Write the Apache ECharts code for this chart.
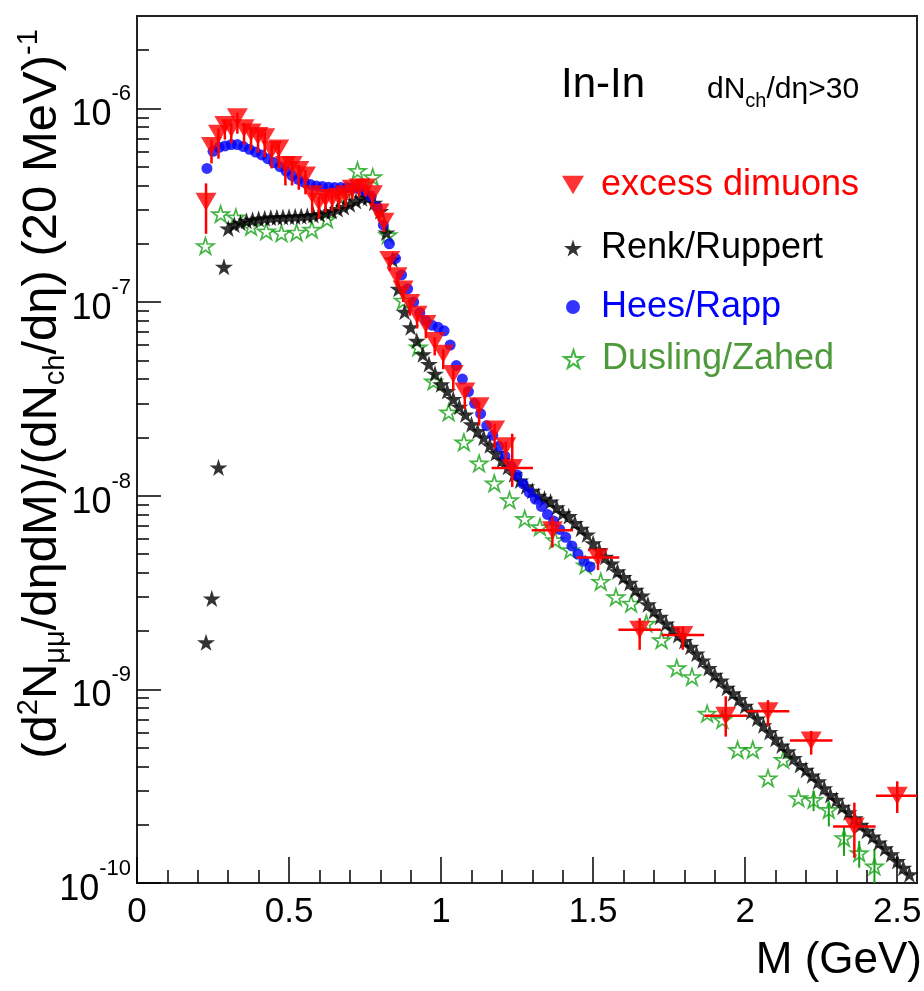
<!DOCTYPE html>
<html><head><meta charset="utf-8">
<script src="https://cdn.jsdelivr.net/npm/echarts@6/dist/echarts.min.js"></script>
<style>html,body{margin:0;padding:0;background:#fff}#c{width:924px;height:991px}</style>
</head><body><div id="c"></div>
<script>
// ---------------- data ----------------
// excess dimuons: [M, value, low, high, half bin width]
const excessDimuons = [
 [0.227,3.3e-7,2.25e-7,4.1e-7,0],[0.245,6.4e-7,5.2e-7,6.9e-7,0],[0.268,7.4e-7,5.5e-7,7.9e-7,0],
 [0.289,8.2e-7,6.9e-7,8.7e-7,0],[0.31,7.9e-7,6.6e-7,8.4e-7,0],[0.33,9.0e-7,7.4e-7,9.5e-7,0],
 [0.352,7.9e-7,6.5e-7,8.4e-7,0],[0.375,7.5e-7,6.1e-7,7.9e-7,0],[0.398,7.2e-7,5.9e-7,7.6e-7,0],
 [0.42,7.1e-7,5.6e-7,7.5e-7,0],[0.443,6.1e-7,4.9e-7,6.5e-7,0],[0.466,6.2e-7,4.9e-7,6.6e-7,0],
 [0.488,5.1e-7,4.0e-7,5.4e-7,0],[0.51,5.1e-7,4.0e-7,5.4e-7,0],[0.532,4.8e-7,3.8e-7,5.1e-7,0],
 [0.554,4.5e-7,3.6e-7,4.8e-7,0],[0.576,3.6e-7,2.9e-7,3.8e-7,0],[0.598,3.3e-7,2.7e-7,3.5e-7,0],
 [0.62,3.45e-7,2.9e-7,3.6e-7,0],[0.642,3.45e-7,2.95e-7,3.6e-7,0],[0.664,3.5e-7,3.0e-7,3.65e-7,0],
 [0.686,3.6e-7,3.1e-7,3.75e-7,0],[0.708,3.85e-7,3.4e-7,4.0e-7,0],[0.73,3.9e-7,3.5e-7,4.05e-7,0],
 [0.752,3.9e-7,3.5e-7,4.05e-7,0],[0.774,3.6e-7,3.2e-7,3.75e-7,0],[0.796,2.9e-7,2.6e-7,3.0e-7,0],
 [0.812,2.6e-7,2.3e-7,2.7e-7,0],[0.831,1.65e-7,1.45e-7,1.72e-7,0],[0.855,1.36e-7,1.2e-7,1.42e-7,0],
 [0.875,1.16e-7,1.0e-7,1.21e-7,0],[0.897,9.9e-8,8.5e-8,1.04e-7,0],[0.921,8.6e-8,7.3e-8,9.0e-8,0],
 [0.95,7.7e-8,6.5e-8,8.1e-8,0],[0.979,6.3e-8,5.3e-8,6.6e-8,0],[1.007,5.4e-8,4.5e-8,5.7e-8,0],
 [1.04,4.25e-8,3.5e-8,4.5e-8,0],[1.078,3.45e-8,2.8e-8,3.6e-8,0],[1.125,2.9e-8,2.3e-8,3.05e-8,0],
 [1.176,2.2e-8,1.75e-8,2.35e-8,0],[1.213,1.8e-8,1.45e-8,1.9e-8,0],
 [1.234,1.39e-8,1.11e-8,2.09e-8,0.068],[1.366,6.64e-9,5.4e-9,7.8e-9,0.068],
 [1.516,4.8e-9,4.13e-9,5.35e-9,0.07],[1.653,2.03e-9,1.6e-9,2.33e-9,0.07],
 [1.795,1.91e-9,1.6e-9,2.1e-9,0.07],[1.936,7.3e-10,5.7e-10,9.2e-10,0.07],
 [2.075,7.7e-10,6.45e-10,8.8e-10,0.07],[2.217,5.45e-10,4.6e-10,6.1e-10,0.07],
 [2.359,1.96e-10,1.35e-10,2.6e-10,0.07],[2.5,2.82e-10,2.3e-10,3.35e-10,0.07]
];
const renkRuppert = [
 [0.227,1.75e-9],[0.246,2.95e-9],[0.268,1.4e-8],[0.286,1.52e-7],[0.30,2.40e-7],[0.32,2.51e-7],
 [0.34,2.57e-7],[0.36,2.63e-7],[0.38,2.66e-7],[0.40,2.69e-7],[0.42,2.71e-7],[0.44,2.73e-7],
 [0.46,2.74e-7],[0.48,2.75e-7],[0.50,2.76e-7],[0.52,2.77e-7],[0.54,2.78e-7],[0.56,2.79e-7],
 [0.58,2.82e-7],[0.60,2.85e-7],[0.62,2.90e-7],[0.64,2.95e-7],[0.66,3.02e-7],[0.68,3.10e-7],
 [0.70,3.20e-7],[0.72,3.33e-7],[0.74,3.44e-7],[0.76,3.47e-7],[0.78,3.26e-7],[0.80,2.95e-7],
 [0.82,2.29e-7],[0.84,1.66e-7],[0.86,1.17e-7],[0.88,8.91e-8],[0.90,7.41e-8],[0.92,6.31e-8],
 [0.94,5.37e-8],[0.96,4.79e-8],[0.98,4.27e-8],[1.00,3.76e-8],[1.02,3.47e-8],[1.04,3.16e-8],
 [1.06,2.88e-8],[1.08,2.63e-8],[1.10,2.34e-8],[1.12,2.16e-8],[1.14,2.00e-8],[1.16,1.82e-8],
 [1.18,1.66e-8],[1.20,1.53e-8],[1.22,1.41e-8],[1.24,1.29e-8],[1.26,1.20e-8],[1.28,1.12e-8],
 [1.30,1.06e-8],[1.32,1.00e-8],[1.34,9.66e-9],[1.36,9.33e-9],[1.38,8.71e-9],[1.40,8.13e-9],
 [1.42,7.85e-9],[1.44,7.24e-9],[1.46,6.76e-9],[1.48,6.31e-9],[1.50,5.69e-9],[1.52,5.25e-9],
 [1.54,4.84e-9],[1.56,4.47e-9],[1.58,4.07e-9],[1.60,3.80e-9],[1.62,3.55e-9],[1.64,3.27e-9],
 [1.66,3.05e-9],[1.68,2.75e-9],[1.70,2.54e-9],[1.72,2.37e-9],[1.74,2.19e-9],[1.76,2.04e-9],
 [1.78,1.91e-9],[1.80,1.78e-9],[1.82,1.66e-9],[1.84,1.53e-9],[1.86,1.41e-9],[1.88,1.29e-9],
 [1.90,1.19e-9],[1.92,1.11e-9],[1.94,1.02e-9],[1.96,9.55e-10],[1.98,8.91e-10],[2.00,8.22e-10],
 [2.02,7.67e-10],[2.04,7.08e-10],[2.06,6.53e-10],[2.08,6.03e-10],[2.10,5.56e-10],[2.12,5.13e-10],
 [2.14,4.79e-10],[2.16,4.42e-10],[2.18,4.07e-10],[2.20,3.85e-10],[2.22,3.59e-10],[2.24,3.35e-10],
 [2.26,3.09e-10],[2.28,2.85e-10],[2.30,2.69e-10],[2.32,2.48e-10],[2.34,2.32e-10],[2.36,2.16e-10],
 [2.38,2.00e-10],[2.40,1.86e-10],[2.42,1.74e-10],[2.44,1.62e-10],[2.46,1.51e-10],[2.48,1.41e-10],
 [2.50,1.30e-10],[2.52,1.20e-10],[2.54,1.11e-10]
];
const heesRapp = [
 [0.23,4.9e-7],[0.25,6.0e-7],[0.27,6.3e-7],[0.29,6.4e-7],[0.31,6.5e-7],[0.33,6.5e-7],
 [0.35,6.35e-7],[0.37,6.15e-7],[0.39,5.95e-7],[0.41,5.75e-7],[0.43,5.5e-7],[0.45,5.25e-7],
 [0.47,5.0e-7],[0.49,4.75e-7],[0.51,4.5e-7],[0.53,4.3e-7],[0.55,4.15e-7],[0.57,4.05e-7],
 [0.59,3.98e-7],[0.61,3.95e-7],[0.63,3.92e-7],[0.65,3.9e-7],[0.67,3.9e-7],[0.69,3.9e-7],
 [0.71,3.9e-7],[0.73,3.85e-7],[0.75,3.75e-7],[0.77,3.5e-7],[0.79,3.1e-7],[0.81,2.5e-7],
 [0.83,2.0e-7],[0.85,1.68e-7],[0.87,1.38e-7],[0.89,1.17e-7],[0.91,1.0e-7],[0.93,8.8e-8],
 [0.95,8.0e-8],[0.97,7.6e-8],[0.99,7.4e-8],[1.01,7.1e-8],[1.03,6.0e-8],[1.05,4.7e-8],
 [1.07,4.0e-8],[1.09,3.45e-8],[1.11,3.0e-8],[1.13,2.65e-8],[1.15,2.3e-8],[1.17,2.05e-8],
 [1.19,1.8e-8],[1.21,1.6e-8],[1.23,1.42e-8],[1.25,1.28e-8],[1.27,1.15e-8],[1.29,1.04e-8],
 [1.31,9.6e-9],[1.33,8.8e-9],[1.35,8.0e-9],[1.37,7.4e-9],[1.39,6.7e-9],[1.41,6.1e-9],
 [1.43,5.5e-9],[1.45,5.0e-9],[1.47,4.6e-9],[1.49,4.3e-9]
];
const duslingZahed = [
 [0.225,1.95e-7],[0.275,2.85e-7],[0.325,2.74e-7],[0.375,2.45e-7],[0.425,2.32e-7],[0.475,2.27e-7],
 [0.525,2.29e-7],[0.575,2.37e-7],[0.625,2.68e-7],[0.675,3.5e-7],[0.725,4.77e-7],[0.775,4.42e-7],
 [0.825,2.22e-7],[0.875,1.02e-7],[0.925,5.85e-8],[0.975,3.9e-8],[1.025,2.7e-8],[1.075,1.89e-8],
 [1.125,1.47e-8],[1.175,1.16e-8],[1.225,9.5e-9],[1.275,7.6e-9],[1.325,6.9e-9],[1.375,5.9e-9],
 [1.425,5.24e-9],[1.475,4.38e-9],[1.525,3.6e-9],[1.575,3.0e-9],[1.625,2.78e-9],[1.675,2.19e-9],
 [1.725,1.8e-9],[1.775,1.29e-9],[1.825,1.16e-9],[1.875,7.5e-10],[1.925,6.97e-10],[1.975,4.88e-10],
 [2.025,4.88e-10],[2.075,3.48e-10],[2.125,4.33e-10],[2.175,2.75e-10],[2.225,2.69e-10],[2.275,2.39e-10],
 [2.325,1.71e-10],[2.375,1.43e-10],[2.425,1.22e-10]
];
// Dusling/Zahed error bars: [M, low, high]
const duslingErrors = [
 [2.225,2.35e-10,3.0e-10],[2.275,1.96e-10,2.6e-10],[2.325,1.38e-10,1.95e-10],
 [2.375,1.2e-10,1.65e-10],[2.425,0.95e-10,1.5e-10]
];
const xLabels = [0, 0.5, 1, 1.5, 2, 2.5];
const xMinorTicks = [0.1,0.2,0.3,0.4,0.6,0.7,0.8,0.9,1.1,1.2,1.3,1.4,1.6,1.7,1.8,1.9,2.1,2.2,2.3,2.4];
const yLabels = [1e-10, 1e-9, 1e-8, 1e-7, 1e-6];
const yMinorTicks = [2e-10,3e-10,4e-10,5e-10,6e-10,7e-10,8e-10,9e-10,2e-9,3e-9,4e-9,5e-9,6e-9,7e-9,8e-9,9e-9,
 2e-8,3e-8,4e-8,5e-8,6e-8,7e-8,8e-8,9e-8,2e-7,3e-7,4e-7,5e-7,6e-7,7e-7,8e-7,9e-7,2e-6];

// ---------------- style ----------------
const FONT = "'Liberation Sans',Arial,sans-serif";
const RED = '#ff0000', BLUE = '#0000ff', GREEN = '#17a317', GREEN_TXT = '#4e9a3a';
const TRI_DOWN = 'path://M0,0L20,0L10,17Z';
const STAR = 'path://M50,0L61,35L98,35L68,57L79,91L50,70L21,91L32,57L2,35L39,35Z';

const chart = echarts.init(document.getElementById('c'), null, {renderer: 'canvas'});

function errorRender(color, width) {
  return function (params, api) {
    const x = api.value(0), lo = api.value(2), hi = api.value(3), dx = api.value(4);
    const y = api.value(1);
    const pLo = api.coord([x, lo]), pHi = api.coord([x, hi]);
    const children = [{type: 'line', shape: {x1: pLo[0], y1: pLo[1], x2: pHi[0], y2: pHi[1]},
      style: {stroke: color, lineWidth: width}}];
    if (dx > 0) {
      const a = api.coord([x - dx, y]), b = api.coord([x + dx, y]);
      children.push({type: 'line', shape: {x1: a[0], y1: a[1], x2: b[0], y2: b[1]},
        style: {stroke: color, lineWidth: width}});
    }
    return {type: 'group', children: children};
  };
}

const supStyle = {fontFamily: FONT, fontSize: 29, lineHeight: 29, verticalAlign: 'top', color: '#000'};
const subStyle = {fontFamily: FONT, fontSize: 29, lineHeight: 29, verticalAlign: 'bottom', color: '#000'};

function legendItem(name, icon, color, left, top, w, h, pad) {
  return {orient: 'vertical', left: left, top: top, itemWidth: w, itemHeight: h, padding: 0,
    selectedMode: false,
    textStyle: {fontFamily: FONT, fontSize: 36, color: color, padding: [0, 0, 0, pad]},
    data: [{name: name, icon: icon}]};
}

const option = {
  animation: false,
  backgroundColor: '#fff',
  textStyle: {fontFamily: FONT},
  title: [
    {text: 'In-In', left: 561, top: 64, padding: 0,
     textStyle: {fontFamily: FONT, fontSize: 42, fontWeight: 'normal', color: '#000'}},
    {text: '{a|dN}{s|ch}{a|/dη>30}', left: 707, top: 69, padding: 0,
     textStyle: {fontWeight: 'normal', rich: {
       a: {fontFamily: FONT, fontSize: 30, fontWeight: 'normal', lineHeight: 42, color: '#000'},
       s: {fontFamily: FONT, fontSize: 20, fontWeight: 'normal', lineHeight: 20, verticalAlign: 'bottom', color: '#000'}
     }}}
  ],
  legend: [
    legendItem('excess dimuons', TRI_DOWN, RED, 562, 167, 22, 19, 12),
    legendItem('Renk/Ruppert', STAR, '#000', 564, 230, 18, 18, 14),
    legendItem('Hees/Rapp', 'circle', BLUE, 566, 289, 14, 14, 16),
    legendItem('Dusling/Zahed', STAR, GREEN_TXT, 563, 341, 19, 19, 14)
  ],
  grid: {left: 137, right: 7, top: 16, bottom: 108, show: true, borderColor: '#222', borderWidth: 2,
         backgroundColor: '#fff', containLabel: false, outerBoundsMode: 'none'},
  xAxis: [
    {type: 'value', min: 0, max: 2.565, position: 'bottom',
     name: 'M (GeV)', nameLocation: 'end', nameGap: 5, nameMoveOverlap: false,
     nameTextStyle: {fontFamily: FONT, fontSize: 44, color: '#000', align: 'right', verticalAlign: 'top', padding: [56, 0, 0, 0]},
     axisLine: {show: true, lineStyle: {color: '#222', width: 2}},
     axisTick: {show: true, inside: true, length: 26, customValues: xLabels, lineStyle: {color: '#000', width: 1.5}},
     axisLabel: {show: true, customValues: xLabels, margin: 12, fontFamily: FONT, fontSize: 35, color: '#000',
       formatter: v => String(v)},
     splitLine: {show: false}},
    {type: 'value', min: 0, max: 2.565, position: 'bottom',
     axisLine: {show: false},
     axisTick: {show: true, inside: true, length: 13, customValues: xMinorTicks, lineStyle: {color: '#000', width: 1.5}},
     axisLabel: {show: false}, splitLine: {show: false}}
  ],
  yAxis: [
    {type: 'log', logBase: 10, min: 1e-10, max: 3e-6, position: 'left',
     name: '(d{sup|2}N{sub|μμ}/dηdM)/(dN{sub|ch}/dη) (20 MeV){sup|-1}',
     nameLocation: 'middle', nameRotate: 90, nameGap: 67, nameMoveOverlap: false,
     nameTextStyle: {fontFamily: FONT, fontSize: 49, color: '#000', lineHeight: 56, padding: [0, 0, 0, 111],
       rich: {sup: supStyle, sub: subStyle}},
     axisLine: {show: true, lineStyle: {color: '#222', width: 2}},
     axisTick: {show: true, inside: true, length: 24, customValues: yLabels, lineStyle: {color: '#000', width: 1.5}},
     axisLabel: {show: true, customValues: yLabels, margin: 6,
       formatter: v => '{b|10}{e|' + Math.round(Math.log10(v)) + '}',
       rich: {b: {fontFamily: FONT, fontSize: 36, lineHeight: 50, verticalAlign: 'bottom', color: '#000'},
              e: {fontFamily: FONT, fontSize: 22, lineHeight: 22, verticalAlign: 'top', color: '#000'}}},
     splitLine: {show: false}, minorSplitLine: {show: false}},
    {type: 'log', logBase: 10, min: 1e-10, max: 3e-6, position: 'left',
     axisLine: {show: false},
     axisTick: {show: true, inside: true, length: 12, customValues: yMinorTicks, lineStyle: {color: '#000', width: 1.5}},
     axisLabel: {show: false}, splitLine: {show: false}}
  ],
  series: [
    {name: 'Dusling/Zahed', type: 'scatter', data: duslingZahed, symbol: STAR, symbolSize: 17,
     symbolKeepAspect: true, itemStyle: {color: 'rgba(255,255,255,0)', borderColor: GREEN, borderWidth: 1.7}, z: 2},
    {name: 'dz-err', type: 'custom', data: duslingErrors.map(r => [r[0], (r[1] + r[2]) / 2, r[1], r[2], 0]),
     renderItem: errorRender(GREEN, 2), clip: true, z: 2, silent: true},
    {name: 'Renk/Ruppert', type: 'scatter', data: renkRuppert, symbol: STAR, symbolSize: 18,
     symbolKeepAspect: true, itemStyle: {color: '#000'}, z: 3},
    {name: 'Hees/Rapp', type: 'scatter', data: heesRapp, symbol: 'circle', symbolSize: 11,
     itemStyle: {color: BLUE}, z: 4},
    {name: 'ex-err', type: 'custom', data: excessDimuons, renderItem: errorRender(RED, 2.5), clip: true, z: 5, silent: true},
    {name: 'excess dimuons', type: 'scatter', data: excessDimuons.map(r => [r[0], r[1]]), symbol: TRI_DOWN,
     symbolSize: [21, 18], itemStyle: {color: RED}, z: 6}
  ]
};
chart.setOption(option);
</script></body></html>
